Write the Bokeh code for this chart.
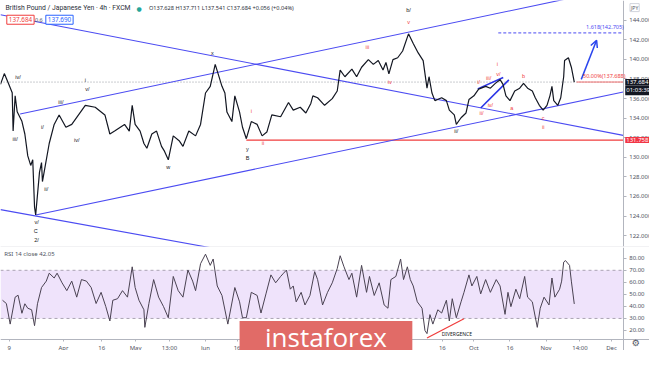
from bokeh.plotting import figure
from bokeh.layouts import column
from bokeh.models import (Range1d, FixedTicker, NumeralTickFormatter, Label, LinearAxis,
                          BoxAnnotation, Arrow, OpenHead)
from bokeh.embed import file_html
from bokeh.resources import INLINE

# ---------------- data (x = time position in days from 1 Mar) ----------------
price_day = [4.1, 5.8, 7.6, 9.3, 9.7, 10.6, 11.5, 13.6, 14.9, 16.2, 17.5, 18.4, 19.2, 19.7,
             21.4, 22.3, 22.7, 25.7, 27.9, 30.1, 33.1, 35.7, 38.7, 41.7, 46.1, 50.4, 52.6,
             54.7, 59.1, 61.2, 62.5, 63.8, 66.0, 67.7, 69.0, 71.2, 73.3, 75.5, 76.8, 78.5,
             80.7, 83.3, 85.0, 87.6, 90.6, 92.8, 95.0, 97.1, 99.3, 100.6, 102.3, 103.6,
             104.5, 106.7, 108.0, 110.1, 111.4, 113.1, 115.3, 117.9, 120.1, 122.2, 124.4,
             128.3, 131.8, 133.9, 137.0, 139.5, 141.7, 142.6, 144.7, 147.8, 151.2, 153.4,
             154.7, 156.8, 159.9, 162.0, 164.2, 167.2, 169.4, 171.6, 173.7, 175.0, 176.3,
             178.1, 180.2, 182.4, 185.0, 187.1, 189.3, 191.5, 193.2, 194.1, 195.4, 196.7,
             199.7, 201.8, 203.1, 205.3, 206.2, 208.3, 210.5, 211.8, 214.0, 216.1, 219.2,
             221.3, 223.5, 225.6, 226.9, 228.2, 230.0, 232.1, 234.3, 236.0, 237.8, 239.9,
             241.2, 243.0, 244.7, 246.4, 247.7, 248.6, 249.4, 251.2, 252.5, 253.8, 254.2,
             255.9, 257.2, 258.5]
price_close = [137.45, 138.55, 137.57, 136.6, 132.7, 136.28, 134.65, 133.68, 132.38, 130.14,
               129.17, 129.75, 124.92, 124.11, 128.49, 129.46, 127.52, 131.41, 133.36, 134.33,
               133.07, 133.36, 134.33, 135.31, 135.11, 134.33, 132.38, 132.68, 133.36, 132.68,
               135.31, 133.36, 132.68, 131.41, 130.92, 132.38, 132.68, 131.12, 130.63, 129.75,
               132.19, 131.7, 131.12, 132.68, 132.19, 133.36, 136.57, 137.25, 139.49, 138.52,
               137.25, 136.57, 134.62, 133.65, 136.28, 134.62, 133.07, 131.9, 133.65, 133.36,
               132.19, 132.58, 134.33, 134.14, 135.6, 134.82, 135.11, 134.53, 135.5, 136.28,
               136.08, 135.31, 135.99, 136.77, 138.91, 138.23, 139.01, 138.23, 139.2, 139.98,
               139.49, 139.88, 138.91, 139.69, 138.52, 139.98, 140.17, 140.86, 142.61, 141.63,
               140.66, 139.88, 137.06, 138.23, 136.57, 135.79, 136.08, 135.79, 134.82, 134.33,
               133.36, 134.04, 134.53, 135.9, 136.28, 136.96, 137.25, 137.06, 137.55, 137.93,
               137.45, 136.28, 135.79, 136.77, 137.06, 137.55, 137.06, 136.77, 136.08, 135.31,
               134.82, 135.31, 136.28, 137.25, 135.79, 135.31, 136.08, 138.23, 139.88, 140.17,
               139.2, 137.684]

rsi_day = [5.0, 6.7, 8.4, 10.6, 11.9, 13.6, 14.9, 16.2, 17.9, 19.2, 20.5, 22.3, 24.4, 25.7,
           27.9, 29.2, 31.4, 33.5, 35.7, 37.9, 40.0, 42.2, 44.3, 46.5, 48.7, 50.8, 52.6, 53.9,
           56.0, 58.2, 60.4, 62.5, 63.8, 65.5, 67.7, 68.1, 69.9, 72.0, 74.2, 76.4, 78.5, 80.7,
           82.9, 85.0, 87.2, 89.3, 90.6, 92.8, 95.0, 97.1, 98.4, 100.2, 102.3, 104.9, 108.0,
           110.1, 111.4, 113.1, 115.3, 117.9, 119.6, 121.8, 124.0, 126.1, 128.3, 129.6, 130.9,
           132.6, 133.9, 135.2, 137.4, 139.1, 141.3, 143.4, 144.7, 146.9, 149.1, 151.2, 153.4,
           154.7, 156.4, 158.6, 159.9, 162.0, 164.2, 166.4, 167.7, 169.8, 172.0, 174.2, 175.9,
           177.2, 179.4, 181.5, 182.8, 184.5, 185.8, 187.1, 188.9, 191.0, 192.3, 193.2, 194.5,
           195.8, 198.0, 199.7, 201.8, 203.1, 204.4, 206.2, 208.3, 209.6, 211.8, 213.1, 215.3,
           217.0, 219.2, 221.3, 223.9, 225.6, 227.8, 229.1, 230.4, 232.6, 234.3, 236.5, 237.8,
           239.9, 242.1, 243.4, 245.1, 247.3, 248.6, 249.9, 252.0, 252.9, 253.8, 254.6, 256.4,
           257.2, 258.5]
rsi_val = [45.1, 42.4, 25.3, 47.7, 49.3, 34.3, 42.2, 38.5, 37.2, 24.0, 42.2, 55.7, 61.0, 67.6,
           63.6, 67.6, 59.6, 53.1, 61.0, 47.7, 62.3, 61.0, 55.7, 42.4, 51.7, 39.8, 27.9, 45.1,
           46.4, 53.1, 47.7, 72.9, 55.7, 45.1, 37.2, 22.6, 42.4, 62.3, 47.7, 39.8, 30.6, 64.9,
           53.1, 47.7, 70.2, 61.0, 53.1, 75.5, 83.4, 74.1, 79.4, 57.0, 49.1, 25.3, 55.7, 43.8,
           30.6, 30.6, 51.7, 49.1, 34.5, 50.4, 66.2, 59.6, 64.9, 67.6, 70.2, 54.3, 57.0, 43.8,
           51.7, 41.2, 49.1, 68.9, 62.3, 41.2, 51.7, 59.6, 71.5, 82.1, 72.9, 62.3, 67.6, 47.7,
           74.1, 51.7, 64.9, 49.1, 59.6, 41.2, 38.5, 62.3, 64.9, 79.4, 62.3, 72.9, 62.3, 57.0,
           43.8, 38.5, 20.0, 17.4, 33.2, 25.3, 37.2, 34.5, 45.1, 27.9, 46.4, 30.6, 43.8, 51.7,
           66.2, 57.0, 64.9, 50.4, 62.3, 51.7, 62.3, 57.0, 33.4, 51.7, 39.8, 54.3, 46.4, 64.9,
           47.7, 43.8, 22.6, 38.5, 47.7, 41.2, 63.6, 47.7, 54.3, 61.0, 76.8, 78.1, 74.1, 61.0,
           42.05]

price_ticks = [122, 124, 126, 128, 130, 132, 134, 136, 138, 140, 142, 144]
rsi_ticks = [20, 30, 40, 50, 60, 70, 80]
time_ticks = [8, 32, 49, 64, 79, 95, 109, 200, 214, 230, 246, 261, 275]
time_labels = ["9", "Apr", "16", "May", "13:00", "Jun", "16", "16", "Oct", "16", "Nov",
               "14:00", "Dec"]

last_price = 137.684
support_level = 131.758
fib_50 = 137.688
fib_1618 = 142.705
rsi_last = 42.05
ohlc_text = "O137.628 H137.711 L137.541 C137.684 +0.056 (+0.04%)"
bid, spread, ask = "137.684", "0.6", "137.690"
countdown = "01:03:39"

# trend lines: (day, price) anchor pairs
upper_channel = ([12.8, 280.2], [134.43, 147.4])
lower_channel = ([19.7, 280.2], [124.11, 136.67])
falling_line = ([4.1, 280.2], [144.56, 132.24])
falling_low = ([4.1, 100.0], [124.66, 120.65])
wedge_top = ([215.7, 227.0], [136.99, 138.16])
wedge_bot = ([217.0, 229.5], [135.04, 137.91])
arrow_pts = ([261.6, 268.4], [137.96, 141.96])
divergence = ([193.2, 209.6], [13.7, 29.8])

black_text = ["iv/", "i", "v/", "iii/", "iii/", "i/", "iv/", "ii/", "v/", "C", "2/",
              "w", "x", "y", "B", "b/", "ii/"]
black_day = [11.9, 41.7, 42.6, 30.9, 10.6, 22.7, 37.9, 24.4, 20.1, 19.7, 20.1,
             78.5, 98.0, 113.6, 113.6, 185.0, 206.2]
black_price = [138.16, 137.93, 136.96, 135.7, 131.9, 133.07, 131.8, 126.74, 123.43, 122.45,
               121.58, 128.98, 140.66, 130.83, 129.95, 145.04, 132.68]
red_text = ["v", "i", "ii", "iii", "iv", "i", "v/", "iii/", "i/", "iv/", "ii/", "a", "b",
            "c", "ii"]
red_day = [185.0, 115.3, 120.5, 166.8, 176.7, 224.4, 224.8, 220.5, 216.1, 221.3, 217.4,
           230.8, 236.0, 244.7, 244.7]
red_price = [143.78, 134.72, 131.51, 141.24, 137.74, 139.49, 138.52, 138.13, 137.74, 135.31,
             134.53, 135.02, 138.32, 134.04, 133.07]

# ---------------- styling ----------------
FONT = "Noto Sans"
AX = "#50535e"
BLUE = "#4b4bf2"
RED = "#f03c3c"
X0, X1, XR = 4.106, 280.2, 291.85   # left edge, price-scale line, right edge

p = figure(frame_width=649, frame_height=246, x_range=Range1d(X0, XR),
           y_range=Range1d(120.89, 146.016), output_backend="svg", toolbar_location=None,
           y_axis_location=None, x_axis_location=None,
           min_border_left=0, min_border_top=0, min_border_bottom=1, min_border_right=0)
r = figure(frame_width=649, frame_height=103, x_range=p.x_range,
           y_range=Range1d(3.37, 88.95), output_backend="svg", toolbar_location=None,
           y_axis_location=None, x_axis_location=None,
           min_border_left=0, min_border_top=0, min_border_bottom=0, min_border_right=0)

p.border_fill_color = "#c9ccd3"
for f in (p, r):
    f.grid.visible = False
    f.outline_line_color = None
    f.background_fill_color = "white"

def style(ax):
    ax.axis_line_color = "#b2b5be"
    ax.major_tick_line_color = "#b2b5be"
    ax.major_tick_in = 0
    ax.major_tick_out = 3
    ax.minor_tick_line_color = None
    ax.major_label_text_font = FONT
    ax.major_label_text_font_size = "6px"
    ax.major_label_text_color = AX
    ax.major_label_standoff = 3

py = LinearAxis(fixed_location=X1, ticker=FixedTicker(ticks=price_ticks),
                formatter=NumeralTickFormatter(format="0.000"))
style(py)
p.add_layout(py, "right")

ry = LinearAxis(fixed_location=X1, ticker=FixedTicker(ticks=rsi_ticks),
                formatter=NumeralTickFormatter(format="0.00"))
style(ry)
r.add_layout(ry, "right")

rx = LinearAxis(fixed_location=12.88, ticker=FixedTicker(ticks=time_ticks),
                major_label_overrides={t: l for t, l in zip(time_ticks, time_labels)})
style(rx)
rx.major_tick_out = 2
r.add_layout(rx, "below")

# ---------------- main panel ----------------
p.line([X0, X1], [last_price, last_price], line_color="#9598a1", line_dash="1 2", line_width=1)
p.line([113.1, X1], [support_level, support_level], line_color=RED, line_width=1.2)
p.line([259.5, X1], [fib_50, fib_50], line_color="#f07070", line_width=1)
p.line([224.8, X1], [fib_1618, fib_1618], line_color=BLUE, line_dash="3 2", line_width=1)

for xs, ys in (upper_channel, lower_channel, falling_line, falling_low):
    p.line(xs, ys, line_color=BLUE, line_width=1.1)
for xs, ys in (wedge_top, wedge_bot):
    p.line(xs, ys, line_color="#2a33e6", line_width=1.6)

p.line(price_day, price_close, line_color="#131722", line_width=1.2)

p.add_layout(Arrow(end=OpenHead(size=7, line_color="#2a45ee", line_width=1.5),
                   x_start=arrow_pts[0][0], y_start=arrow_pts[1][0],
                   x_end=arrow_pts[0][1], y_end=arrow_pts[1][1],
                   line_color="#2a45ee", line_width=1.5))

p.text(x=black_day, y=black_price, text=black_text, text_color="#131722",
       text_font_size="5.5px", text_align="center", text_baseline="middle")
p.text(x=red_day, y=red_price, text=red_text, text_color=RED,
       text_font_size="5.5px", text_align="center", text_baseline="middle")

p.add_layout(Label(x=262.4, y=fib_50 + 0.2, text="50.00%%(%.3f)" % fib_50, text_color=RED,
                   text_font=FONT, text_font_size="5.5px", text_baseline="bottom"))
p.add_layout(Label(x=263.7, y=fib_1618 + 0.2, text="1.618(%.3f)" % fib_1618,
                   text_color=BLUE, text_font=FONT, text_font_size="5.5px",
                   text_baseline="bottom"))

# header
p.add_layout(Label(x=6.27, y=145.24, text="British Pound / Japanese Yen \u00b7 4h \u00b7 FXCM",
                   text_color="#2a2e39", text_font="Roboto", text_font_size="6.8px",
                   text_baseline="middle"))
p.add_layout(Label(x=64.4, y=145.24, text="\u25cf", text_color="#26a69a",
                   text_font="DejaVu Sans", text_font_size="6px", text_baseline="middle"))
p.add_layout(Label(x=69.9, y=145.24, text=ohlc_text, text_color="#2a2e39", text_font=FONT,
                   text_font_size="5.6px", text_baseline="middle"))
p.add_layout(Label(x=6.9, y=144.05, text=bid, text_color=RED, text_font=FONT,
                   text_font_size="6.3px", text_baseline="middle", border_line_color=RED,
                   background_fill_color="white", padding=2))
p.add_layout(Label(x=19.4, y=144.05, text=spread, text_color=AX, text_font=FONT,
                   text_font_size="5.5px", text_baseline="middle"))
p.add_layout(Label(x=24.2, y=144.05, text=ask, text_color="#2962ff", text_font=FONT,
                   text_font_size="6.3px", text_baseline="middle", border_line_color="#2962ff",
                   background_fill_color="white", padding=2))

# price scale badges
for yv, txt, bg in ((last_price, "%.3f" % last_price, "#131722"),
                    (136.86, countdown, "#131722"),
                    (support_level, "%.3f" % support_level, "#f23645")):
    p.add_layout(Label(x=X1, y=yv, text=txt, text_color="white", background_fill_color=bg,
                       text_font=FONT, text_font_size="6px", text_baseline="middle",
                       x_offset=2, padding=1))
p.add_layout(Label(x=283.2, y=145.29, text="JPY", text_color=AX, border_line_color="#d1d4dc",
                   background_fill_color="white", text_font=FONT, text_font_size="5px",
                   text_baseline="middle", padding=1))

# ---------------- RSI panel ----------------
r.add_layout(BoxAnnotation(left=X0, right=X1, bottom=30, top=70, fill_color="#efe3fb",
                           fill_alpha=1, line_color=None, level="underlay"))
r.line([X0, X1], [70, 70], line_color="#aaa3b3", line_dash="3 3", line_width=1)
r.line([X0, X1], [30, 30], line_color="#aaa3b3", line_dash="3 3", line_width=1)
r.line(rsi_day, rsi_val, line_color="#4a4252", line_width=1)
r.line(divergence[0], divergence[1], line_color=RED, line_width=1.2)
r.add_layout(Label(x=199.7, y=16.8, text="DIVERGENCE", text_color="#131722",
                   text_font=FONT, text_font_size="5px", text_baseline="middle"))
r.add_layout(Label(x=5.8, y=83.4, text="RSI 14 close  %.2f" % rsi_last, text_color=AX,
                   text_font=FONT, text_font_size="6px", text_baseline="middle"))
r.add_layout(Label(x=285.8, y=9.5, text="\u2699", text_color=AX, text_font="DejaVu Sans",
                   text_font_size="9px", text_baseline="middle", text_align="center"))

# watermark logo
r.add_layout(BoxAnnotation(left=110.1, right=186.7, bottom=-40, top=27.9,
                           fill_color="#e16b67", fill_alpha=1, line_color=None,
                           level="overlay"))
r.add_layout(Label(x=148.4, y=14.3, text="instaforex", text_color="white",
                   text_font="Open Sans", text_font_size="26px", text_align="center",
                   text_baseline="middle", level="overlay"))

layout = column(p, r, spacing=0)
open("out.html", "w").write(file_html(layout, INLINE))
